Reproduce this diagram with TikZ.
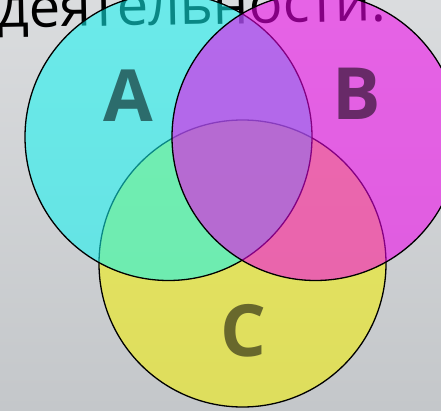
\documentclass[tikz,border=0pt]{standalone}
\usepackage{fontspec}
\setmainfont{Open Sans}

\definecolor{bgtop}{RGB}{218,220,222}
\definecolor{bgbottom}{RGB}{196,199,202}
\definecolor{setcyan}{RGB}{17,246,244}
\definecolor{setmagenta}{RGB}{241,0,237}
\definecolor{setyellow}{RGB}{244,241,3}
\definecolor{labA}{RGB}{44,108,108}
\definecolor{labB}{RGB}{104,42,104}
\definecolor{labC}{RGB}{104,104,44}

\tikzset{
  setdisk/.style={circle, draw=black, line width=1.3pt, minimum size=287pt,
    inner sep=0pt, fill opacity=0.55},
  setlabel/.style={font=\fontsize{72}{72}\selectfont\bfseries, inner sep=0pt}
}

\begin{document}
\begin{tikzpicture}[x=1pt,y=1pt]
    \useasboundingbox (0,0) rectangle (441,410);
    \shade[top color=bgtop, bottom color=bgbottom] (0,0) rectangle (441,410);

    % heading, partly under the circles
    \node[anchor=base west, rotate=1.05, inner sep=0pt,
          font=\fontsize{56}{56}\selectfont] (heading) at (-3,382) {деятельности:};

    % C first, then A, then B on top
    \node[setdisk, fill=setyellow] (setC) at (242.5,146.5) {};
    \node[setdisk, fill=setcyan] (setA) at (168.5,273) {};
    \node[setdisk, fill=setmagenta] (setB) at (315.5,273) {};

    \node[setlabel, text=labA] (labelA) at (128,314) {A};
    \node[setlabel, text=labB] (labelB) at (357,316) {B};
    \node[setlabel, text=labC] (labelC) at (243,79) {C};
\end{tikzpicture}
\end{document}
